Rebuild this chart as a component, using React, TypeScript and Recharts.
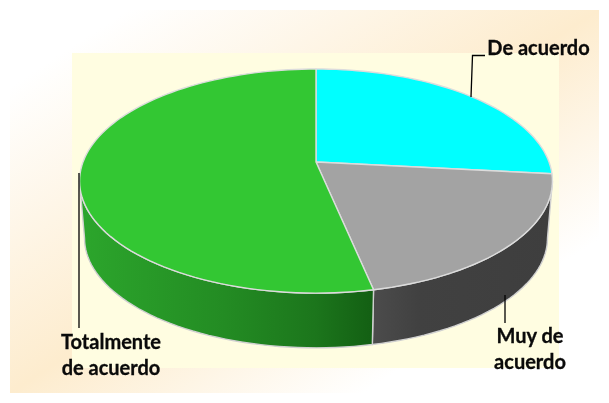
import React from "react";
import { PieChart, Pie, Cell } from "recharts";

const categories = ["De acuerdo", "Muy de acuerdo", "Totalmente de acuerdo"];
const values = [26.7, 20, 53.3];
const topColors = ["#00FFFF", "#A3A3A3", "#33C733"];
const labelLines = [["De acuerdo"], ["Muy de", "acuerdo"], ["Totalmente", "de acuerdo"]];

const chartData = categories.map((name, i) => ({ name, value: values[i] }));

// Perspective of the pie's plane
const TILT = 0.467;
const PERSP = 0.17;
const DEPTH_Y = 57.5;
const DEPTH_SCALE = 0.979;

const project = (cx: number, cy: number, r: number, deg: number, lower = false) => {
  const t = (deg * Math.PI) / 180;
  const w = 1 + PERSP * Math.cos(t);
  const s = lower ? DEPTH_SCALE : 1;
  return [cx + (s * r * Math.sin(t)) / w, cy + (lower ? DEPTH_Y : 0) - (s * r * TILT * Math.cos(t)) / w];
};

const arc = (cx: number, cy: number, r: number, a: number, b: number, lower = false) => {
  const n = Math.max(2, Math.ceil(Math.abs(b - a) / 2));
  const pts: string[] = [];
  for (let i = 0; i <= n; i++) {
    const [x, y] = project(cx, cy, r, a + ((b - a) * i) / n, lower);
    pts.push(`${x.toFixed(2)},${y.toFixed(2)}`);
  }
  return pts;
};

const WALL_FROM = (Math.acos(-PERSP) * 180) / Math.PI;
const WALL_TO = 360 - WALL_FROM;

const PieSlice = (props: any) => {
  const { cx, cy, outerRadius: r, startAngle, endAngle, fill, index } = props;
  const idx = index ?? categories.indexOf(props.name);
  const a = 90 - startAngle;
  const b = 90 - endAngle;
  const wa = Math.max(a, WALL_FROM);
  const wb = Math.min(b, WALL_TO);
  const top = `M${cx},${cy} L${arc(cx, cy, r, a, b).join(" L")} Z`;
  let wall = null;
  if (wb > wa) {
    const p = [...arc(cx, cy, r, wa, wb), ...arc(cx, cy, r, wb, wa, true)];
    wall = (
      <path
        d={`M${p.join(" L")} Z`}
        fill={`url(#wall-${idx})`}
        stroke="#d0d0d0"
        strokeWidth={1.4}
        strokeLinejoin="round"
      />
    );
  }
  return (
    <g>
      <defs>
        <linearGradient id="wall-1" x1="0" y1="0" x2="1" y2="0">
          <stop offset="0" stopColor="#4c4c4c" />
          <stop offset="0.25" stopColor="#414141" />
          <stop offset="1" stopColor="#3e3e3e" />
        </linearGradient>
        <linearGradient id="wall-2" x1="0" y1="0" x2="1" y2="0">
          <stop offset="0" stopColor="#2ca62c" />
          <stop offset="0.5" stopColor="#238b23" />
          <stop offset="0.8" stopColor="#1c761c" />
          <stop offset="1" stopColor="#135f13" />
        </linearGradient>
      </defs>
      {wall}
      <path d={top} fill={fill} stroke="#dcdcdc" strokeWidth={1.4} strokeLinejoin="round" />
    </g>
  );
};

const labelLayout = [
  { x: 538.5, y: 55, line: "M471,97 L472.5,55.5 L485,55.5" },
  { x: 530, y: 343, line: "M505,295 L505,323" },
  { x: 111, y: 349, line: "M79,173 L79,328" },
];

const renderLabel = (props: any) => {
  const { index } = props;
  const l = labelLayout[index];
  return (
    <g key={index}>
      <path d={l.line} fill="none" stroke="#000" strokeWidth={1.3} />
      {labelLines[index].map((t, i) => (
        <text
          key={t}
          x={l.x}
          y={l.y + i * 26}
          textAnchor="middle"
          fontFamily="Lato, 'Open Sans', sans-serif"
          fontWeight={700}
          fontSize={20}
          stroke="#0a0a0a"
          strokeWidth={0.3}
          fill="#0a0a0a"
        >
          {t}
        </text>
      ))}
    </g>
  );
};

export default function App() {
  return (
    <div style={{ position: "absolute", left: 0, top: 0, width: 609, height: 403, background: "#fff", overflow: "hidden" }}>
      <div style={{ position: "absolute", left: 10, top: 10, width: 589, height: 383, background: "linear-gradient(to bottom right, #ffffff 0%, #ffffff 10%, #fdecce 50%, #ffffff 80%, #ffffff 100%)" }} />
      <div style={{ position: "absolute", left: 72, top: 53, width: 487, height: 315, background: "#FFFDE1" }} />
      <div style={{ position: "absolute", left: 0, top: 0, filter: "blur(0.35px)" }}>
        <PieChart width={609} height={403} margin={{ top: 0, right: 0, bottom: 0, left: 0 }}>
          <Pie
            data={chartData}
            dataKey="value"
            nameKey="name"
            cx={316}
            cy={162}
            outerRadius={233}
            startAngle={90}
            endAngle={-270}
            paddingAngle={0}
            stroke="none"
            isAnimationActive={false}
            shape={PieSlice}
            inactiveShape={PieSlice}
            label={renderLabel}
            labelLine={false}
          >
            {chartData.map((d, i) => (
              <Cell key={d.name} fill={topColors[i]} />
            ))}
          </Pie>
        </PieChart>
      </div>
    </div>
  );
}
